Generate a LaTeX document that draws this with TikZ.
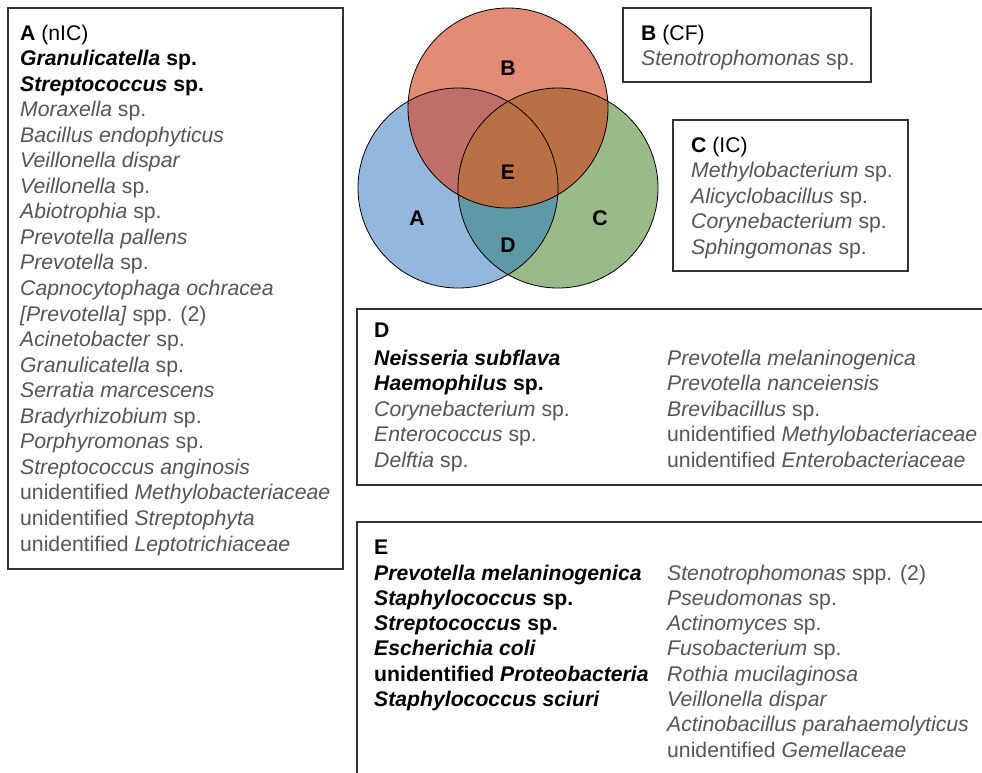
\documentclass[tikz,border=0pt]{standalone}
\usepackage{fontspec}
\setmainfont{Liberation Sans}
\definecolor{gtext}{HTML}{555555}
\definecolor{vA}{HTML}{94B8DD}
\definecolor{vB}{HTML}{E38C75}
\definecolor{vC}{HTML}{9BBA8A}
\definecolor{vAB}{HTML}{BF6E69}
\definecolor{vBC}{HTML}{BA7044}
\definecolor{vAC}{HTML}{5F99A5}
\definecolor{vABC}{HTML}{A76151}
\definecolor{frame}{HTML}{333333}
\newcommand{\bitx}[1]{\textbf{\textit{#1}}}
\begin{document}
\begin{tikzpicture}[x=1pt,y=-1pt,
  ln/.style={anchor=base west, inner sep=0pt, font=\fontsize{21.2}{24}\selectfont, text=gtext, yshift=-1.5pt},
  hd/.style={ln, text=black},
  frm/.style={draw=frame, line width=1.3pt},
  vlab/.style={font=\fontsize{21.2}{24}\selectfont\bfseries, inner sep=0pt},
  circ/.style={circle, draw=black, line width=0.8pt, minimum size=200pt, inner sep=0pt, outer sep=0pt}]
\useasboundingbox (0,0) rectangle (982,772);
\clip (0,0) rectangle (982,772);
\fill[white] (0,0) rectangle (982,772);

% Venn fills
\fill[vA] (458,188) circle[radius=100pt];
\fill[vC] (558,188) circle[radius=100pt];
\fill[vB] (508,108) circle[radius=100pt];
\begin{scope}
  \clip (458,188) circle[radius=100pt];
  \fill[vAB] (508,108) circle[radius=100pt];
  \fill[vAC] (558,188) circle[radius=100pt];
  \clip (508,108) circle[radius=100pt];
  \fill[vABC] (558,188) circle[radius=100pt];
\end{scope}
\begin{scope}
  \clip (558,188) circle[radius=100pt];
  \fill[vBC] (508,108) circle[radius=100pt];
\end{scope}
\node[circ] (cA) at (458,188) {};
\node[circ] (cB) at (508,108) {};
\node[circ] (cC) at (558,188) {};
\node[vlab] (lB) at (508,68) {B};
\node[vlab] (lE) at (508,172) {E};
\node[vlab] (lA) at (417,218) {A};
\node[vlab] (lC) at (600,218) {C};
\node[vlab] (lD) at (508,245) {D};

% Frames
\draw[frm] (8,8) rectangle (343,569);
\draw[frm] (623,8) rectangle (871,82);
\draw[frm] (673,120) rectangle (908,271);
\draw[frm] (995,309) -- (357,309) -- (357,485) -- (995,485);
\draw[frm] (995,522) -- (357,522) -- (357,790);

% Box A
\node[hd] (a0) at (20,38.5) {\textbf{A} (nIC)};
\node[hd] (a1) at (20,64.05) {\bitx{Granulicatella} \textbf{sp.}};
\node[hd] (a2) at (20,89.6) {\bitx{Streptococcus} \textbf{sp.}};
\foreach \t [count=\i from 3] in {
  {\textit{Moraxella} sp.},
  {\textit{Bacillus endophyticus}},
  {\textit{Veillonella dispar}},
  {\textit{Veillonella} sp.},
  {\textit{Abiotrophia} sp.},
  {\textit{Prevotella pallens}},
  {\textit{Prevotella} sp.},
  {\textit{Capnocytophaga ochracea}},
  {\textit{[Prevotella]} spp. (2)},
  {\textit{Acinetobacter} sp.},
  {\textit{Granulicatella} sp.},
  {\textit{Serratia marcescens}},
  {\textit{Bradyrhizobium} sp.},
  {\textit{Porphyromonas} sp.},
  {\textit{Streptococcus anginosis}},
  {unidentified \textit{Methylobacteriaceae}},
  {unidentified \textit{Streptophyta}},
  {unidentified \textit{Leptotrichiaceae}}}
  \node[ln] (a\i) at (20,38.5+25.55*\i) {\t};

% Box B
\node[hd] (b0) at (641,38.5) {\textbf{B} (CF)};
\node[ln] (b1) at (641,63.5) {\textit{Stenotrophomonas} sp.};

% Box C
\node[hd] (c0) at (691,150.5) {\textbf{C} (IC)};
\foreach \t [count=\i] in {
  {\textit{Methylobacterium} sp.},
  {\textit{Alicyclobacillus} sp.},
  {\textit{Corynebacterium} sp.},
  {\textit{Sphingomonas} sp.}}
  \node[ln] (c\i) at (691,150.5+25.5*\i) {\t};

% Box D
\node[hd] (d0) at (374,335.5) {\textbf{D}};
\node[hd] (d1) at (374,363.5) {\bitx{Neisseria subflava}};
\node[hd] (d2) at (374,389) {\bitx{Haemophilus} \textbf{sp.}};
\foreach \t [count=\i from 3] in {
  {\textit{Corynebacterium} sp.},
  {\textit{Enterococcus} sp.},
  {\textit{Delftia} sp.}}
  \node[ln] (d\i) at (374,363.5+25.5*\i-25.5) {\t};
\foreach \t [count=\i] in {
  {\textit{Prevotella melaninogenica}},
  {\textit{Prevotella nanceiensis}},
  {\textit{Brevibacillus} sp.},
  {unidentified \textit{Methylobacteriaceae}},
  {unidentified \textit{Enterobacteriaceae}}}
  \node[ln] (dd\i) at (667,363.5+25.5*\i-25.5) {\t};

% Box E
\node[hd] (e0) at (374,552.5) {\textbf{E}};
\foreach \t [count=\i] in {
  {\bitx{Prevotella melaninogenica}},
  {\bitx{Staphylococcus} \textbf{sp.}},
  {\bitx{Streptococcus} \textbf{sp.}},
  {\bitx{Escherichia coli}},
  {\textbf{unidentified} \bitx{Proteobacteria}},
  {\bitx{Staphylococcus sciuri}}}
  \node[hd] (e\i) at (374,578.5+25.3*\i-25.3) {\t};
\foreach \t [count=\i] in {
  {\textit{Stenotrophomonas} spp. (2)},
  {\textit{Pseudomonas} sp.},
  {\textit{Actinomyces} sp.},
  {\textit{Fusobacterium} sp.},
  {\textit{Rothia mucilaginosa}},
  {\textit{Veillonella dispar}},
  {\textit{Actinobacillus parahaemolyticus}},
  {unidentified \textit{Gemellaceae}}}
  \node[ln] (ee\i) at (667,578.5+25.3*\i-25.3) {\t};
\end{tikzpicture}
\end{document}
